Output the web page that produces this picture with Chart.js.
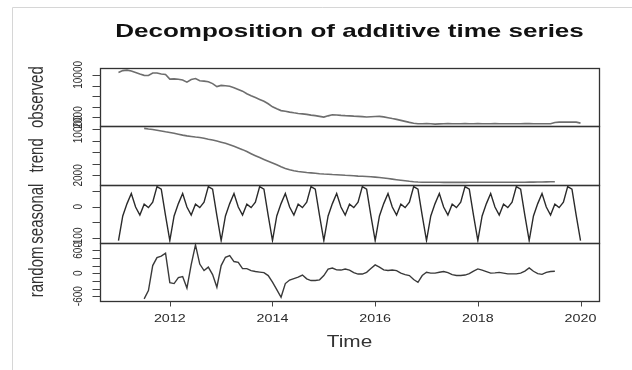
<!DOCTYPE html>
<html>
<head>
<meta charset="utf-8">
<script src="https://cdn.jsdelivr.net/npm/chart.js@4.4.1/dist/chart.umd.min.js"></script>
<style>
  html, body { margin: 0; padding: 0; background: #fff; }
  canvas { display: block; }
</style>
</head>
<body>
<canvas id="decomp" width="632" height="370"></canvas>
<script>
// Monthly series, Jan 2011 .. Jan 2020 (observed, seasonal); Jul 2011 .. Jul 2019 (trend, random)
const observedStart = 2011;
const trendStart = 2011.5;

const observed = [
  10447, 10807, 10893, 10731, 10447, 10162, 9916, 9878, 10352, 10352, 10162, 10067,
  9214, 9252, 9176, 9024, 8645, 9119, 9309, 8892, 8835, 8702, 8361, 7792,
  8019, 7943, 7849, 7602, 7261, 6938, 6464, 6085, 5743, 5383, 5042, 4567,
  3998, 3619, 3278, 3145, 2993, 2860, 2747, 2671, 2576, 2424, 2329, 2197,
  2064, 2291, 2481, 2462, 2386, 2329, 2291, 2235, 2197, 2140, 2064, 2121,
  2159, 2197, 2102, 1950, 1779, 1628, 1438, 1248, 1059, 907, 812, 805,
  820, 798, 740, 790, 812, 825, 808, 795, 815, 822, 800, 810,
  830, 815, 800, 812, 820, 808, 800, 815, 818, 805, 810, 822,
  835, 815, 805, 800, 812, 818, 1050, 1116, 1110, 1120, 1105, 1115,
  926
];

const trend = [
  10152, 10047, 9960, 9838, 9716, 9576,
  9454, 9314, 9140, 8983, 8861, 8756, 8651, 8564, 8442, 8267, 8128, 7953,
  7761, 7569, 7325, 7046, 6767, 6470, 6138, 5772, 5423, 5091, 4777, 4463,
  4149, 3852, 3503, 3207, 2980, 2805, 2683, 2596, 2509, 2439, 2369, 2299,
  2247, 2212, 2160, 2125, 2073, 2020, 1985, 1933, 1881, 1846, 1811, 1758,
  1706, 1636, 1549, 1462, 1357, 1252, 1148, 1060, 973, 903, 851, 825,
  812, 806, 803, 801, 800, 799, 798, 797, 798, 800, 801, 803,
  805, 806, 808, 809, 810, 810, 811, 812, 813, 815, 818, 822,
  828, 835, 845, 858, 872, 888, 905
];

const seasonal = [
  -110, -30, 10, 43, -1, -27, 8, -3, 15, 65, 57, -29,
  -110, -30, 10, 43, -1, -27, 8, -3, 15, 65, 57, -29,
  -110, -30, 10, 43, -1, -27, 8, -3, 15, 65, 57, -29,
  -110, -30, 10, 43, -1, -27, 8, -3, 15, 65, 57, -29,
  -110, -30, 10, 43, -1, -27, 8, -3, 15, 65, 57, -29,
  -110, -30, 10, 43, -1, -27, 8, -3, 15, 65, 57, -29,
  -110, -30, 10, 43, -1, -27, 8, -3, 15, 65, 57, -29,
  -110, -30, 10, 43, -1, -27, 8, -3, 15, 65, 57, -29,
  -110, -30, 10, 43, -1, -27, 8, -3, 15, 65, 57, -29,
  -110
];

const random = [
  -671, -453, 202, 411, 451, 529,
  -244, -270, -113, -86, -388, 228, 744, 241, 71, 162, -34, -367,
  202, 419, 464, 307, 288, 123, 123, 71, 45, 31, 18, -60,
  -231, -427, -629, -270, -178, -139, -100, -47, -147, -191, -191, -173,
  -60, 110, 136, 89, 84, 110, 84, 18, -21, -21, 26, 123,
  220, 162, 89, 71, 84, 71, 5, -34, -60, -165, -236, -60,
  26, 5, 5, 26, 45, 18, -34, -60, -60, -47, -8, 58,
  115, 84, 45, 5, 10, 24, 5, -16, -16, -16, 5, 58,
  141, 52, -8, -29, 24, 45, 52
];

// Axis ticks (labels left blank where base graphics would drop them for overlap)
const timeTicks = [2012, 2014, 2016, 2018, 2020];
const observedTicks = [2000, 4000, 6000, 8000, 10000];
const observedTickLabels = ['2000', '', '', '', '10000'];
const trendTicks = [2000, 4000, 6000, 8000, 10000];
const trendTickLabels = ['2000', '', '', '', '10000'];
const seasonalTicks = [-100, -50, 0, 50];
const seasonalTickLabels = ['-100', '', '0', ''];
const randomTicks = [-600, -400, -200, 0, 200, 400, 600];
const randomTickLabels = ['-600', '', '', '0', '', '', '600'];

const panelNames = ['observed', 'trend', 'seasonal', 'random'];

// ---------------------------------------------------------------
function toPoints(values, start) {
  return values.map((v, i) => ({ x: start + i / 12, y: v }));
}
// Base-graphics style range: data extent plus 4% on each side
function paddedRange(values) {
  const lo = Math.min(...values), hi = Math.max(...values);
  const pad = (hi - lo) * 0.04;
  return { min: lo - pad, max: hi + pad };
}
const tEnd = observedStart + (observed.length - 1) / 12;
const tPad = (tEnd - observedStart) * 0.04;

const panels = [
  { id: 'yObs', values: observed, start: observedStart, ticks: observedTicks, labels: observedTickLabels, color: '#6e6e6e', width: 1.6 },
  { id: 'yTrend', values: trend, start: trendStart, ticks: trendTicks, labels: trendTickLabels, color: '#6e6e6e', width: 1.6 },
  { id: 'ySeas', values: seasonal, start: observedStart, ticks: seasonalTicks, labels: seasonalTickLabels, color: '#2b2b2b', width: 1.4 },
  { id: 'yRand', values: random, start: trendStart, ticks: randomTicks, labels: randomTickLabels, color: '#3a3a3a', width: 1.4 }
];

const hidden = {
  ticks: { display: false },
  grid: { display: false, drawTicks: false },
  border: { display: false }
};

const scales = {
  x: Object.assign({ type: 'linear', min: observedStart - tPad, max: tEnd + tPad, display: true }, hidden)
};
// stacked left axes are laid out bottom-up, so register the lowest panel first
panels.slice().reverse().forEach(p => {
  const r = paddedRange(p.values);
  scales[p.id] = Object.assign({
    type: 'linear', position: 'left', stack: 'panels', stackWeight: 1,
    min: r.min, max: r.max, display: true
  }, hidden);
});

// Text drawn with a horizontal stretch, optionally rotated to read bottom-up
const SX = 1.3;
function drawText(ctx, text, x, y, font, color, rotated, sx) {
  ctx.save();
  ctx.translate(x, y);
  ctx.scale(sx || SX, 1);
  if (rotated) ctx.rotate(-Math.PI / 2);
  ctx.font = font;
  ctx.fillStyle = color;
  ctx.textAlign = 'center';
  ctx.textBaseline = 'middle';
  ctx.fillText(text, 0, 0);
  ctx.restore();
}

const baseGraphicsFrame = {
  id: 'baseGraphicsFrame',
  beforeDraw(chart) {
    const ctx = chart.ctx;
    ctx.save();
    ctx.fillStyle = '#ffffff';
    ctx.fillRect(0, 0, chart.width, chart.height);
    ctx.strokeStyle = '#d6d6d6';
    ctx.lineWidth = 1;
    ctx.beginPath();
    ctx.moveTo(12.5, chart.height);
    ctx.lineTo(12.5, 7.5);
    ctx.lineTo(chart.width, 7.5);
    ctx.stroke();
    ctx.restore();
  },
  afterDraw(chart) {
    const ctx = chart.ctx;
    const area = chart.chartArea;
    const left = Math.round(area.left) + 0.5;
    const right = Math.round(area.right) + 0.5;
    ctx.save();

    // panel boxes, y ticks and y labels
    panels.forEach((p, i) => {
      const s = chart.scales[p.id];
      const top = Math.round(s.top) + 0.5;
      const bottom = Math.round(s.bottom) + 0.5;
      ctx.strokeStyle = '#333333';
      ctx.lineWidth = 1.3;
      ctx.strokeRect(left, top, right - left, bottom - top);

      ctx.lineWidth = 1;
      ctx.strokeStyle = '#444444';
      p.ticks.forEach((v, k) => {
        const y = Math.round(s.getPixelForValue(v)) + 0.5;
        ctx.beginPath();
        ctx.moveTo(left - 8, y);
        ctx.lineTo(left, y);
        ctx.stroke();
        if (p.labels[k]) {
          drawText(ctx, p.labels[k], 78, s.getPixelForValue(v), '10px "Liberation Sans", Arial, sans-serif', '#2e2e2e', true);
        }
      });
      drawText(ctx, panelNames[i], 38, (s.top + s.bottom) / 2, '15px "Liberation Sans", Arial, sans-serif', '#333333', true);
    });

    // time axis
    const xs = chart.scales.x;
    const base = Math.round(area.bottom) + 0.5;
    ctx.strokeStyle = '#444444';
    ctx.lineWidth = 1;
    timeTicks.forEach(t => {
      const x = Math.round(xs.getPixelForValue(t)) + 0.5;
      ctx.beginPath();
      ctx.moveTo(x, base);
      ctx.lineTo(x, base + 5);
      ctx.stroke();
      drawText(ctx, String(t), xs.getPixelForValue(t), 319, '11px "Liberation Sans", Arial, sans-serif', '#2a2a2a', false);
    });
    drawText(ctx, 'Time', (area.left + area.right) / 2, 343, '16px "Liberation Sans", Arial, sans-serif', '#333333', false);

    // main title
    drawText(ctx, 'Decomposition of additive time series', (area.left + area.right) / 2, 32,
      'bold 19px "Liberation Sans", Arial, sans-serif', '#111111', false, 1.37);
    ctx.restore();
  }
};

new Chart(document.getElementById('decomp'), {
  type: 'line',
  data: {
    datasets: panels.map((p, i) => ({
      label: panelNames[i],
      data: toPoints(p.values, p.start),
      yAxisID: p.id,
      borderColor: p.color,
      borderWidth: p.width,
      pointRadius: 0,
      tension: 0,
      fill: false
    }))
  },
  options: {
    responsive: false,
    animation: false,
    devicePixelRatio: 1,
    layout: { padding: { left: 100, right: 33, top: 68, bottom: 69 } },
    plugins: { legend: { display: false }, tooltip: { enabled: false }, title: { display: false } },
    scales: scales
  },
  plugins: [baseGraphicsFrame]
});
</script>
</body>
</html>
